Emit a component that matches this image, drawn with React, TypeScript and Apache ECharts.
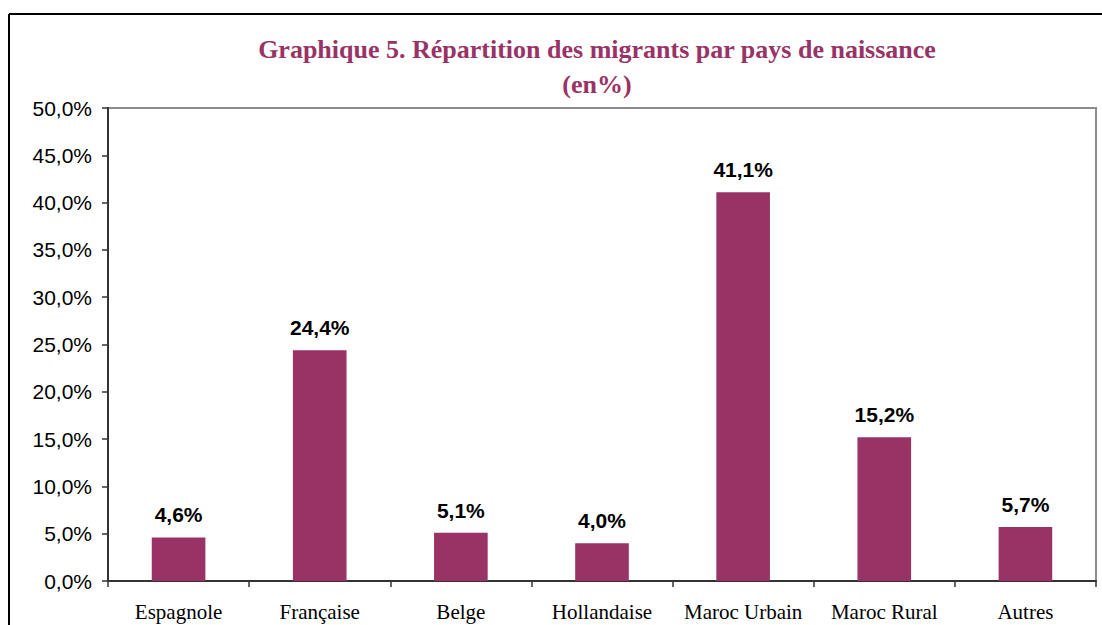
import React, { useEffect, useRef } from "react";
import * as echarts from "echarts";

const categories = ["Espagnole", "Française", "Belge", "Hollandaise", "Maroc Urbain", "Maroc Rural", "Autres"];
const values = [4.6, 24.4, 5.1, 4.0, 41.1, 15.2, 5.7];
const titleLines = ["Graphique 5. Répartition des migrants par pays de naissance", "(en%)"];

const fmt = (v: number) => v.toFixed(1).replace(".", ",") + "%";

export default function App() {
  const ref = useRef<HTMLDivElement>(null);
  useEffect(() => {
    const chart = echarts.init(ref.current!, null, { renderer: "svg" });
    chart.setOption({
      animation: false,
      backgroundColor: "#ffffff",
      title: {
        text: titleLines.join("\n"),
        left: 592,
        textAlign: "center",
        top: 27,
        textStyle: {
          fontFamily: "Liberation Serif",
          fontWeight: "bold",
          fontSize: 26,
          color: "#993366",
          lineHeight: 35,
        },
      },
      graphic: [
        { type: "line", shape: { x1: 9, y1: 14, x2: 9, y2: 625 }, style: { stroke: "#000", lineWidth: 2 } },
        { type: "line", shape: { x1: 9, y1: 14, x2: 1102, y2: 14 }, style: { stroke: "#000", lineWidth: 2 } },
      ],
      grid: {
        left: 108,
        top: 108,
        width: 988,
        height: 473,
        show: true,
        borderColor: "#8c8c8c",
        borderWidth: 2,
        backgroundColor: "transparent",
      },
      xAxis: {
        type: "category",
        data: categories,
        axisLine: { lineStyle: { color: "#333", width: 2 } },
        axisTick: { show: true, length: 6, alignWithLabel: false, lineStyle: { color: "#333", width: 1.5 } },
        axisLabel: {
          fontFamily: "Liberation Serif",
          fontSize: 21,
          color: "#000",
          margin: 20,
          interval: 0,
        },
      },
      yAxis: {
        type: "value",
        min: 0,
        max: 50,
        interval: 5,
        axisLine: { show: true, lineStyle: { color: "#333", width: 2 } },
        axisTick: { show: true, length: 6, lineStyle: { color: "#333", width: 1.5 } },
        splitLine: { show: false },
        axisLabel: {
          fontFamily: "Liberation Sans",
          fontSize: 21,
          color: "#000",
          margin: 16,
          formatter: (v: number) => fmt(v),
        },
      },
      series: [
        {
          type: "bar",
          data: values,
          barWidth: "38%",
          itemStyle: { color: "#993366" },
          label: {
            show: true,
            position: "top",
            distance: 12,
            fontFamily: "Liberation Sans",
            fontWeight: "bold",
            fontSize: 21,
            color: "#000",
            formatter: (p: any) => fmt(p.value),
          },
        },
      ],
    });
    return () => chart.dispose();
  }, []);
  return <div ref={ref} style={{ position: "fixed", left: 0, top: 0, width: 1102, height: 625 }} />;
}
